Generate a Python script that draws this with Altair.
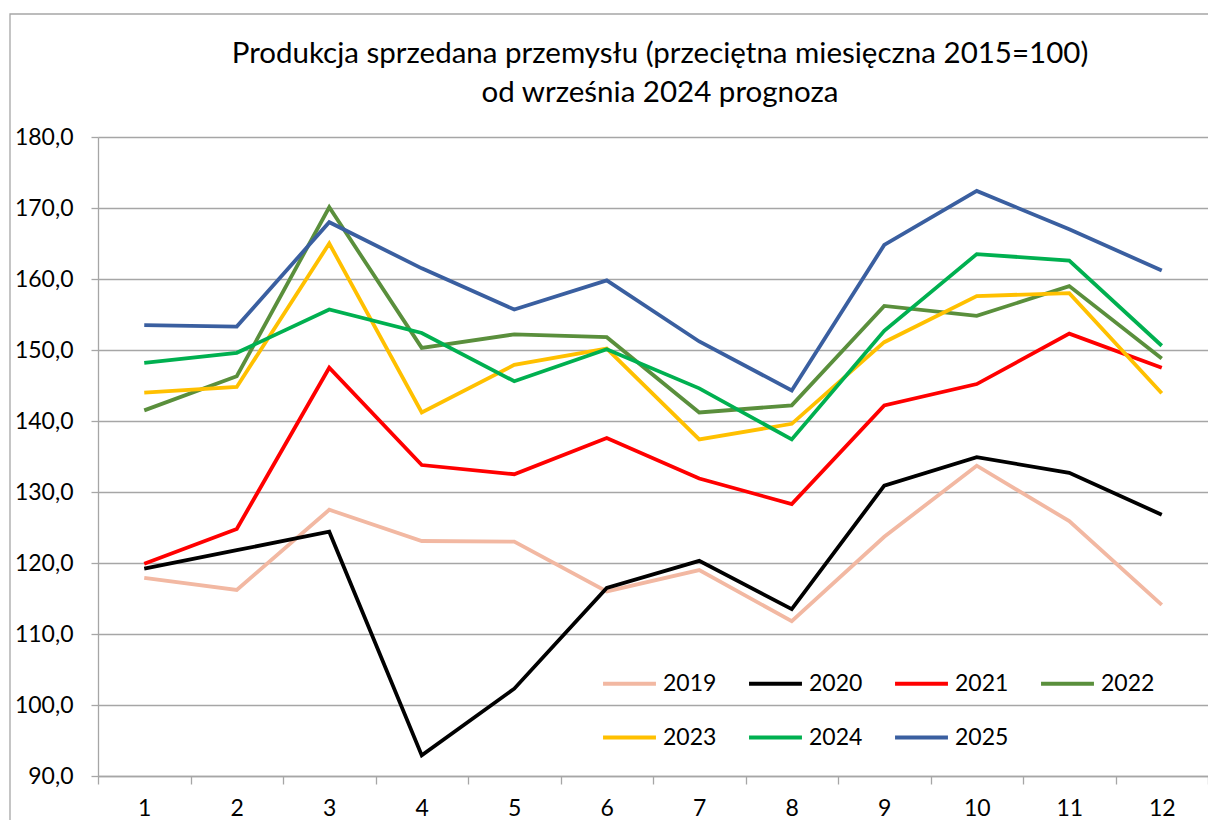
import altair as alt
import pandas as pd

months = list(range(1, 13))
years = ["2019", "2020", "2021", "2022", "2023", "2024", "2025"]
v2019 = [117.9, 116.2, 127.5, 123.1, 123.0, 116.0, 119.0, 111.8, 123.7, 133.7, 125.9, 114.1]
v2020 = [119.2, 121.8, 124.4, 92.9, 102.3, 116.5, 120.3, 113.5, 130.9, 134.9, 132.7, 126.8]
v2021 = [119.9, 124.8, 147.5, 133.8, 132.5, 137.6, 131.9, 128.3, 142.2, 145.2, 152.3, 147.5]
v2022 = [141.5, 146.3, 170.1, 150.3, 152.2, 151.8, 141.2, 142.2, 156.2, 154.8, 159.0, 148.8]
v2023 = [144.0, 144.8, 165.0, 141.2, 147.9, 150.2, 137.4, 139.6, 151.1, 157.6, 158.0, 143.9]
v2024 = [148.2, 149.6, 155.7, 152.4, 145.6, 150.1, 144.6, 137.4, 152.7, 163.5, 162.6, 150.6]
v2025 = [153.5, 153.3, 168.0, 161.5, 155.7, 159.8, 151.2, 144.3, 164.8, 172.4, 167.0, 161.2]
colors = ["#F2B8A2", "#000000", "#FF0000", "#5A8F3C", "#FFC000", "#00B050", "#3A5FA0"]
title_lines = ["Produkcja sprzedana przemysłu (przeciętna miesięczna 2015=100)",
               "od września 2024 prognoza"]

series = [v2019, v2020, v2021, v2022, v2023, v2024, v2025]
rows = []
for yr, vals in zip(years, series):
    for m, v in zip(months, vals):
        rows.append({"month": m, "year": yr, "value": v})
df = pd.DataFrame(rows)

GRID = "#A6A6A6"
FONT = "Lato"

lines = alt.Chart(df).mark_line(strokeWidth=3.8).encode(
    x=alt.X(
        "month:O",
        scale=alt.Scale(type="band", paddingInner=0, paddingOuter=0),
        axis=alt.Axis(
            title=None, labelAngle=0, tickBand="extent", tickSize=8,
            tickColor=GRID, tickWidth=1.3, domainColor=GRID, domainWidth=1.3,
            grid=False, labelFont=FONT, labelFontSize=23, labelColor="black",
            labelPadding=13,
        ),
    ),
    y=alt.Y(
        "value:Q",
        scale=alt.Scale(domain=[90, 180], nice=False, zero=False),
        axis=alt.Axis(
            title=None, values=list(range(90, 181, 10)),
            labelExpr="replace(format(datum.value, '.1f'), '.', ',')",
            tickSize=7, tickColor=GRID, tickWidth=1.3,
            domainColor=GRID, domainWidth=1.3,
            gridColor=GRID, gridWidth=1.3,
            labelFont=FONT, labelFontSize=23, labelColor="black", labelPadding=18,
        ),
    ),
    color=alt.Color(
        "year:N",
        scale=alt.Scale(domain=years, range=colors),
        legend=alt.Legend(
            title=None, orient="none", legendX=503, legendY=518,
            direction="horizontal", columns=4, symbolType="stroke",
            symbolSize=2800, symbolStrokeWidth=4, labelFont=FONT,
            labelFontSize=23, labelColor="black", labelOffset=5,
            columnPadding=24, rowPadding=13, padding=0,
        ),
    ),
)

border = alt.Chart(pd.DataFrame({"a": [0]})).mark_rect(
    fill=None, stroke=GRID, strokeWidth=1.3
).encode(
    x=alt.value(-88), x2=alt.value(1130), y=alt.value(-123), y2=alt.value(720)
)

title1 = alt.Chart(pd.DataFrame({"t": [title_lines[0]]})).mark_text(
    font=FONT, fontSize=29.5, color="black", align="center", baseline="alphabetic"
).encode(text="t:N", x=alt.value(562), y=alt.value(-74))
title2 = alt.Chart(pd.DataFrame({"t": [title_lines[1]]})).mark_text(
    font=FONT, fontSize=29.5, color="black", align="center", baseline="alphabetic"
).encode(text="t:N", x=alt.value(562), y=alt.value(-35))

chart = alt.layer(border, title1, title2, lines).properties(
    width=1110,
    height=639,
    padding={"left": 90, "top": 129, "right": 0, "bottom": 44},
    autosize=alt.AutoSizeParams(type="none"),
).configure_view(stroke=None)

chart.save("out.html", embed_options={"renderer": "svg", "actions": False})
